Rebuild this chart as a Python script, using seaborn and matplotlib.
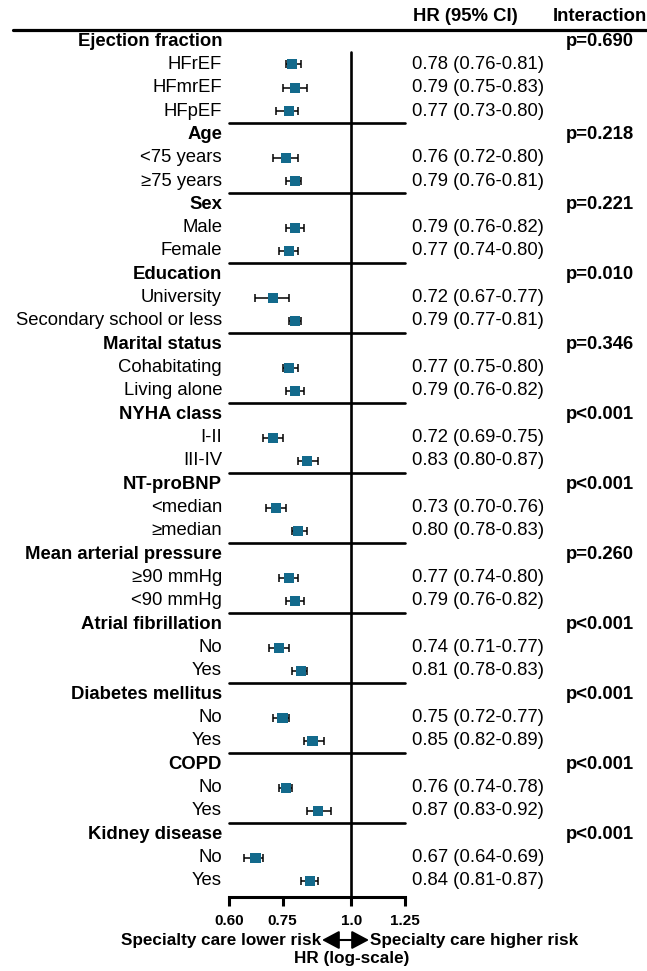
import numpy as np
import pandas as pd
import matplotlib
matplotlib.use("Agg")
import matplotlib.pyplot as plt
import matplotlib.transforms as mtransforms
import seaborn as sns

# ---------------- data ----------------
groups = ["Ejection fraction", "Age", "Sex", "Education", "Marital status",
          "NYHA class", "NT-proBNP", "Mean arterial pressure",
          "Atrial fibrillation", "Diabetes mellitus", "COPD", "Kidney disease"]
pvalues = ["p=0.690", "p=0.218", "p=0.221", "p=0.010", "p=0.346", "p<0.001",
           "p<0.001", "p=0.260", "p<0.001", "p<0.001", "p<0.001", "p<0.001"]
subgroups = [["HFrEF", "HFmrEF", "HFpEF"],
             ["<75 years", "≥75 years"],
             ["Male", "Female"],
             ["University", "Secondary school or less"],
             ["Cohabitating", "Living alone"],
             ["I-II", "III-IV"],
             ["<median", "≥median"],
             ["≥90 mmHg", "<90 mmHg"],
             ["No", "Yes"],
             ["No", "Yes"],
             ["No", "Yes"],
             ["No", "Yes"]]
hr = [[0.78, 0.79, 0.77], [0.76, 0.79], [0.79, 0.77], [0.72, 0.79],
      [0.77, 0.79], [0.72, 0.83], [0.73, 0.80], [0.77, 0.79],
      [0.74, 0.81], [0.75, 0.85], [0.76, 0.87], [0.67, 0.84]]
ci_low = [[0.76, 0.75, 0.73], [0.72, 0.76], [0.76, 0.74], [0.67, 0.77],
          [0.75, 0.76], [0.69, 0.80], [0.70, 0.78], [0.74, 0.76],
          [0.71, 0.78], [0.72, 0.82], [0.74, 0.83], [0.64, 0.81]]
ci_high = [[0.81, 0.83, 0.80], [0.80, 0.81], [0.82, 0.80], [0.77, 0.81],
           [0.80, 0.82], [0.75, 0.87], [0.76, 0.83], [0.80, 0.82],
           [0.77, 0.83], [0.77, 0.89], [0.78, 0.92], [0.69, 0.87]]
xticks = [0.60, 0.75, 1.0, 1.25]
xticklabels = ["0.60", "0.75", "1.0", "1.25"]

# ---------------- build table ----------------
rows = []
r = 0
header_rows = []
sep_rows = []
for gi, g in enumerate(groups):
    header_rows.append((r, g, pvalues[gi]))
    r += 1
    for si, s in enumerate(subgroups[gi]):
        rows.append(dict(row=r, label=s, hr=hr[gi][si],
                         lo=ci_low[gi][si], hi=ci_high[gi][si]))
        r += 1
    if gi < len(groups) - 1:
        sep_rows.append(r - 0.5)
df = pd.DataFrame(rows)

# ---------------- style ----------------
sns.set_style("white")
plt.rcParams["font.family"] = ["Liberation Sans", "DejaVu Sans"]
plt.rcParams["text.color"] = "black"
plt.rcParams["axes.labelcolor"] = "black"
plt.rcParams["xtick.color"] = "black"
plt.rcParams["xtick.labelcolor"] = "black"

W, H = 647, 971
fig = plt.figure(figsize=(W / 100, H / 100), dpi=100)
ax_left_px, ax_right_px = 229, 405
top_px, bot_px = 17.67, 897
row0_px, step_px = 41, 23.333
ax = fig.add_axes([ax_left_px / W, 1 - bot_px / H,
                   (ax_right_px - ax_left_px) / W, (bot_px - top_px) / H])
ax.set_xscale("log")
ax.set_xlim(0.60, 1.25)
ymax = (bot_px - row0_px) / step_px
ax.set_ylim(ymax, -1)

teal = "#136a8c"
ax.errorbar(df["hr"], df["row"],
            xerr=[df["hr"] - df["lo"], df["hi"] - df["hr"]],
            fmt="none", ecolor="black", elinewidth=1.1, capsize=2.6,
            capthick=1.1, zorder=2)
sns.scatterplot(data=df, x="hr", y="row", marker="s", s=55, color=teal,
                edgecolor="none", ax=ax, zorder=3, legend=False)

# reference line at 1.0
ax.plot([1.0, 1.0], [0.45, ymax], color="black", lw=1.9, zorder=1,
        clip_on=False)
# separators
for sr in sep_rows:
    ax.plot([0.60, 1.25], [sr, sr], color="black", lw=1.9, zorder=1,
            clip_on=False)

# axes styling
for sp in ["left", "top", "right"]:
    ax.spines[sp].set_visible(False)
ax.spines["bottom"].set_linewidth(2.2)
ax.spines["bottom"].set_color("black")
ax.set_yticks([])
ax.set_xticks(xticks)
ax.set_xticklabels(xticklabels, fontsize=11, fontweight="bold")
ax.xaxis.set_minor_locator(matplotlib.ticker.NullLocator())
ax.tick_params(axis="x", which="major", direction="out", length=6.5,
               width=2.2, color="black", pad=6, bottom=True)
ax.set_xlabel("")
ax.set_ylabel("")

def ax_x(px):
    return (px - ax_left_px) / (ax_right_px - ax_left_px)

trans = mtransforms.blended_transform_factory(ax.transAxes, ax.transData)
fs = 13.3
for (hrow, g, p) in header_rows:
    ax.text(ax_x(222), hrow, g, transform=trans, ha="right", va="center",
            fontsize=fs, fontweight="bold", clip_on=False)
    ax.text(ax_x(600), hrow, p, transform=trans, ha="center", va="center",
            fontsize=fs, fontweight="bold", clip_on=False)
for _, rw in df.iterrows():
    ax.text(ax_x(222), rw["row"], rw["label"], transform=trans, ha="right",
            va="center", fontsize=fs, clip_on=False)
    ax.text(ax_x(412), rw["row"],
            f"{rw['hr']:.2f} ({rw['lo']:.2f}-{rw['hi']:.2f})",
            transform=trans, ha="left", va="center", fontsize=fs,
            clip_on=False)

# column headers
hdr_row = (16 - row0_px) / step_px
ax.text(ax_x(413), hdr_row, "HR (95% CI)", transform=trans, ha="left",
        va="center", fontsize=fs, fontweight="bold", clip_on=False)
ax.text(ax_x(600), hdr_row, "Interaction", transform=trans, ha="center",
        va="center", fontsize=fs, fontweight="bold", clip_on=False)
line_row = (29.5 - row0_px) / step_px
ax.plot([ax_x(13), ax_x(647)], [line_row, line_row], transform=trans,
        color="black", lw=2.3, clip_on=False)

# bottom annotations
fig.text(321 / W, 1 - 940 / H, "Specialty care lower risk", ha="right",
         va="center", fontsize=12.3, fontweight="bold")
fig.text(370 / W, 1 - 940 / H, "Specialty care higher risk", ha="left",
         va="center", fontsize=12.3, fontweight="bold")
fig.text(352 / W, 1 - 958 / H, "HR (log-scale)", ha="center",
         va="center", fontsize=12.3, fontweight="bold")
ax.annotate("", xy=(369, H - 940), xytext=(322, H - 940),
            xycoords="figure pixels", textcoords="figure pixels",
            arrowprops=dict(arrowstyle="<|-|>,head_length=0.75,head_width=0.4",
                            color="black", lw=1.5, shrinkA=0, shrinkB=0,
                            mutation_scale=14))

fig.savefig("out.png", dpi=100)
